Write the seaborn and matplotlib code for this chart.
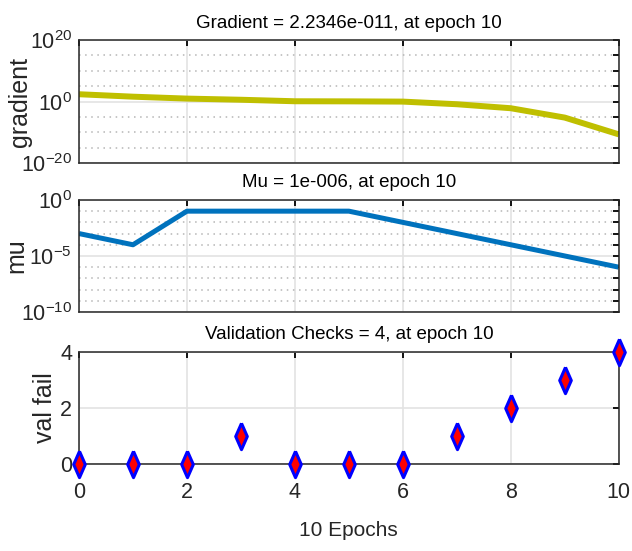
import matplotlib
matplotlib.use('Agg')
import matplotlib.pyplot as plt
import matplotlib.ticker as mticker
import numpy as np
import pandas as pd
import seaborn as sns

# training record
epochs = [0, 1, 2, 3, 4, 5, 6, 7, 8, 9, 10]
gradient = [250, 40, 9.5, 4.0, 1.3, 1.2, 1.0, 0.14, 7e-3, 6.3e-6, 2.2346e-11]
mu = [1e-3, 1e-4, 1e-1, 1e-1, 1e-1, 1e-1, 1e-2, 1e-3, 1e-4, 1e-5, 1e-6]
val_fail = [0, 0, 0, 1, 0, 0, 0, 1, 2, 3, 4]

titles = ['Gradient = 2.2346e-011, at epoch 10',
          'Mu = 1e-006, at epoch 10',
          'Validation Checks = 4, at epoch 10']
ylabels = ['gradient', 'mu', 'val fail']
grad_ticks = [1e-20, 1e0, 1e20]
grad_ticklabels = ['$\\mathregular{10^{-20}}$', '$\\mathregular{10^{0}}$', '$\\mathregular{10^{20}}$']
mu_ticks = [1e-10, 1e-5, 1e0]
mu_ticklabels = ['$\\mathregular{10^{-10}}$', '$\\mathregular{10^{-5}}$', '$\\mathregular{10^{0}}$']
vf_ticks = [0, 2, 4]
x_ticks = [0, 2, 4, 6, 8, 10]

df = pd.DataFrame({'epoch': epochs, 'gradient': gradient, 'mu': mu, 'val_fail': val_fail})

sns.set_style('white')
plt.rcParams['font.family'] = ['Liberation Sans', 'DejaVu Sans']
plt.rcParams['mathtext.fontset'] = 'custom'
plt.rcParams['mathtext.rm'] = 'Liberation Sans'

fig = plt.figure(figsize=(6.32, 5.51), dpi=100)
ax1 = fig.add_axes([0.125, 0.704, 0.854, 0.2232])
ax2 = fig.add_axes([0.125, 0.4338, 0.854, 0.2033])
ax3 = fig.add_axes([0.125, 0.1588, 0.854, 0.2024])

axis_col = '#262626'

def style_axis(ax):
    for s in ax.spines.values():
        s.set_visible(True)
        s.set_color(axis_col)
        s.set_linewidth(1.1)
    ax.tick_params(which='both', direction='in', top=True, right=True,
                   color='black', labelsize=15.5, labelcolor=axis_col)
    ax.tick_params(which='both', length=4, width=1.3)
    ax.tick_params(axis='y', pad=5)
    ax.tick_params(axis='x', pad=13)
    ax.set_xlim(0, 10)
    ax.set_xticks(x_ticks)
    ax.grid(True, which='major', color='#e3e3e3', linewidth=1.2, linestyle='-')
    ax.set_axisbelow(True)

# gradient
sns.lineplot(data=df, x='epoch', y='gradient', ax=ax1, color='#bfbf00', linewidth=4.3,
             solid_capstyle='butt')
ax1.set_yscale('log')
ax1.set_ylim(1e-20, 1e20)
ax1.yaxis.set_major_locator(mticker.FixedLocator(grad_ticks))
ax1.yaxis.set_major_formatter(mticker.FixedFormatter(grad_ticklabels))
ax1.yaxis.set_minor_locator(mticker.FixedLocator([1e-15, 1e-10, 1e-5, 1e5, 1e10, 1e15]))
ax1.yaxis.set_minor_formatter(mticker.NullFormatter())

# mu
sns.lineplot(data=df, x='epoch', y='mu', ax=ax2, color='#0072bd', linewidth=3.6,
             solid_capstyle='butt')
ax2.set_yscale('log')
ax2.set_ylim(1e-10, 1e0)
ax2.yaxis.set_major_locator(mticker.FixedLocator(mu_ticks))
ax2.yaxis.set_major_formatter(mticker.FixedFormatter(mu_ticklabels))
ax2.yaxis.set_minor_locator(mticker.FixedLocator([10.0 ** k for k in range(-9, 0) if k != -5]))
ax2.yaxis.set_minor_formatter(mticker.NullFormatter())

# validation failures
diamond = [(0, 1), (0.44, 0), (0, -1), (-0.44, 0), (0, 1)]
sns.lineplot(data=df, x='epoch', y='val_fail', ax=ax3, linestyle='', marker=diamond,
             markersize=19, markerfacecolor='red', markeredgecolor='blue',
             markeredgewidth=2.2, clip_on=False, zorder=5)
ax3.set_ylim(0, 4)
ax3.set_yticks(vf_ticks)
ax3.set_yticklabels([str(v) for v in vf_ticks])

for ax, t, yl, lx in zip([ax1, ax2, ax3], titles, ylabels, [-0.096, -0.104, -0.05]):
    style_axis(ax)
    ax.set_title(t, fontsize=13.5, color='black', pad=9)
    ax.set_ylabel(yl, fontsize=18, color=axis_col, va='baseline')
    ax.yaxis.set_label_coords(lx, 0.5)
    ax.set_xlabel('')

for ax in [ax1, ax2]:
    ax.tick_params(axis='x', labelbottom=False)
    ax.grid(True, which='minor', axis='y', color='#b5b5b5', linewidth=1.1, linestyle=(0, (1, 3)))

ax3.set_xticklabels([str(v) for v in x_ticks])
ax3.set_xlabel('10 Epochs', fontsize=15, color=axis_col, labelpad=13)

fig.savefig('out.png', dpi=100)
